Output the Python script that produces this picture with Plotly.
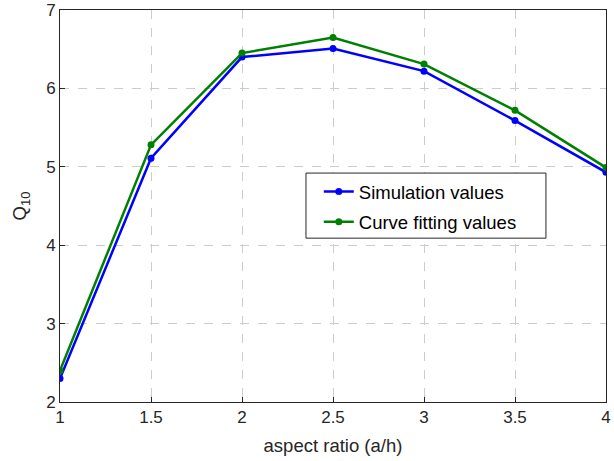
import plotly.graph_objects as go

aspect_ratio = [1, 1.5, 2, 2.5, 3, 3.5, 4]
simulation_values = [2.30, 5.11, 6.40, 6.51, 6.22, 5.59, 4.93]
curve_fitting_values = [2.40, 5.28, 6.45, 6.65, 6.31, 5.72, 4.99]
x_ticks = [1, 1.5, 2, 2.5, 3, 3.5, 4]
y_ticks = [2, 3, 4, 5, 6, 7]

fig = go.Figure()
fig.add_trace(go.Scatter(x=aspect_ratio, y=simulation_values, mode="lines+markers",
                         name="Simulation values", legendgroup="a",
                         line=dict(color="#0000FF", width=2.5),
                         marker=dict(color="#0000FF", size=7)))
fig.add_trace(go.Scatter(x=aspect_ratio, y=curve_fitting_values, mode="lines+markers",
                         name="Curve fitting values", legendgroup="b",
                         line=dict(color="#008000", width=2.5),
                         marker=dict(color="#008000", size=7)))

axis_common = dict(showline=True, mirror=True, linecolor="#262626", linewidth=1,
                   showgrid=True, gridcolor="#cccccc", griddash="dash", gridwidth=1,
                   ticks="inside", ticklen=5, tickcolor="#262626",
                   zeroline=False, automargin=False,
                   tickfont=dict(size=17, color="#262626"))

# legend frame drawn as a box behind the (transparent) legend
fig.add_shape(type="rect", xref="paper", yref="paper",
              x0=0.4505, x1=0.890, y0=0.418, y1=0.584,
              fillcolor="white", line=dict(color="#262626", width=1), layer="above")

fig.update_layout(
    width=614, height=461,
    margin=dict(l=60, r=8, t=10, b=59),
    paper_bgcolor="white", plot_bgcolor="white",
    font=dict(family="Liberation Sans, Arial, sans-serif", color="#262626"),
    xaxis=dict(range=[1, 4], tickvals=x_ticks, ticktext=[str(v) for v in x_ticks],
               title=dict(text="aspect ratio (a/h)", font=dict(size=18.5), standoff=12),
               **axis_common),
    yaxis=dict(range=[2, 7], tickvals=y_ticks, ticktext=[str(v) for v in y_ticks],
               title=dict(text="Q<sub>10</sub>", font=dict(size=18.5), standoff=14),
               **axis_common),
    legend=dict(x=0.474, y=0.584, xanchor="left", yanchor="top",
                bgcolor="rgba(0,0,0,0)", borderwidth=0,
                font=dict(size=18.5, color="black"),
                traceorder="grouped", tracegroupgap=3),
    showlegend=True,
)

fig.write_html("out.html", config={"displayModeBar": False},
               post_script="document.body.style.margin='0';document.body.style.overflow='hidden';")
